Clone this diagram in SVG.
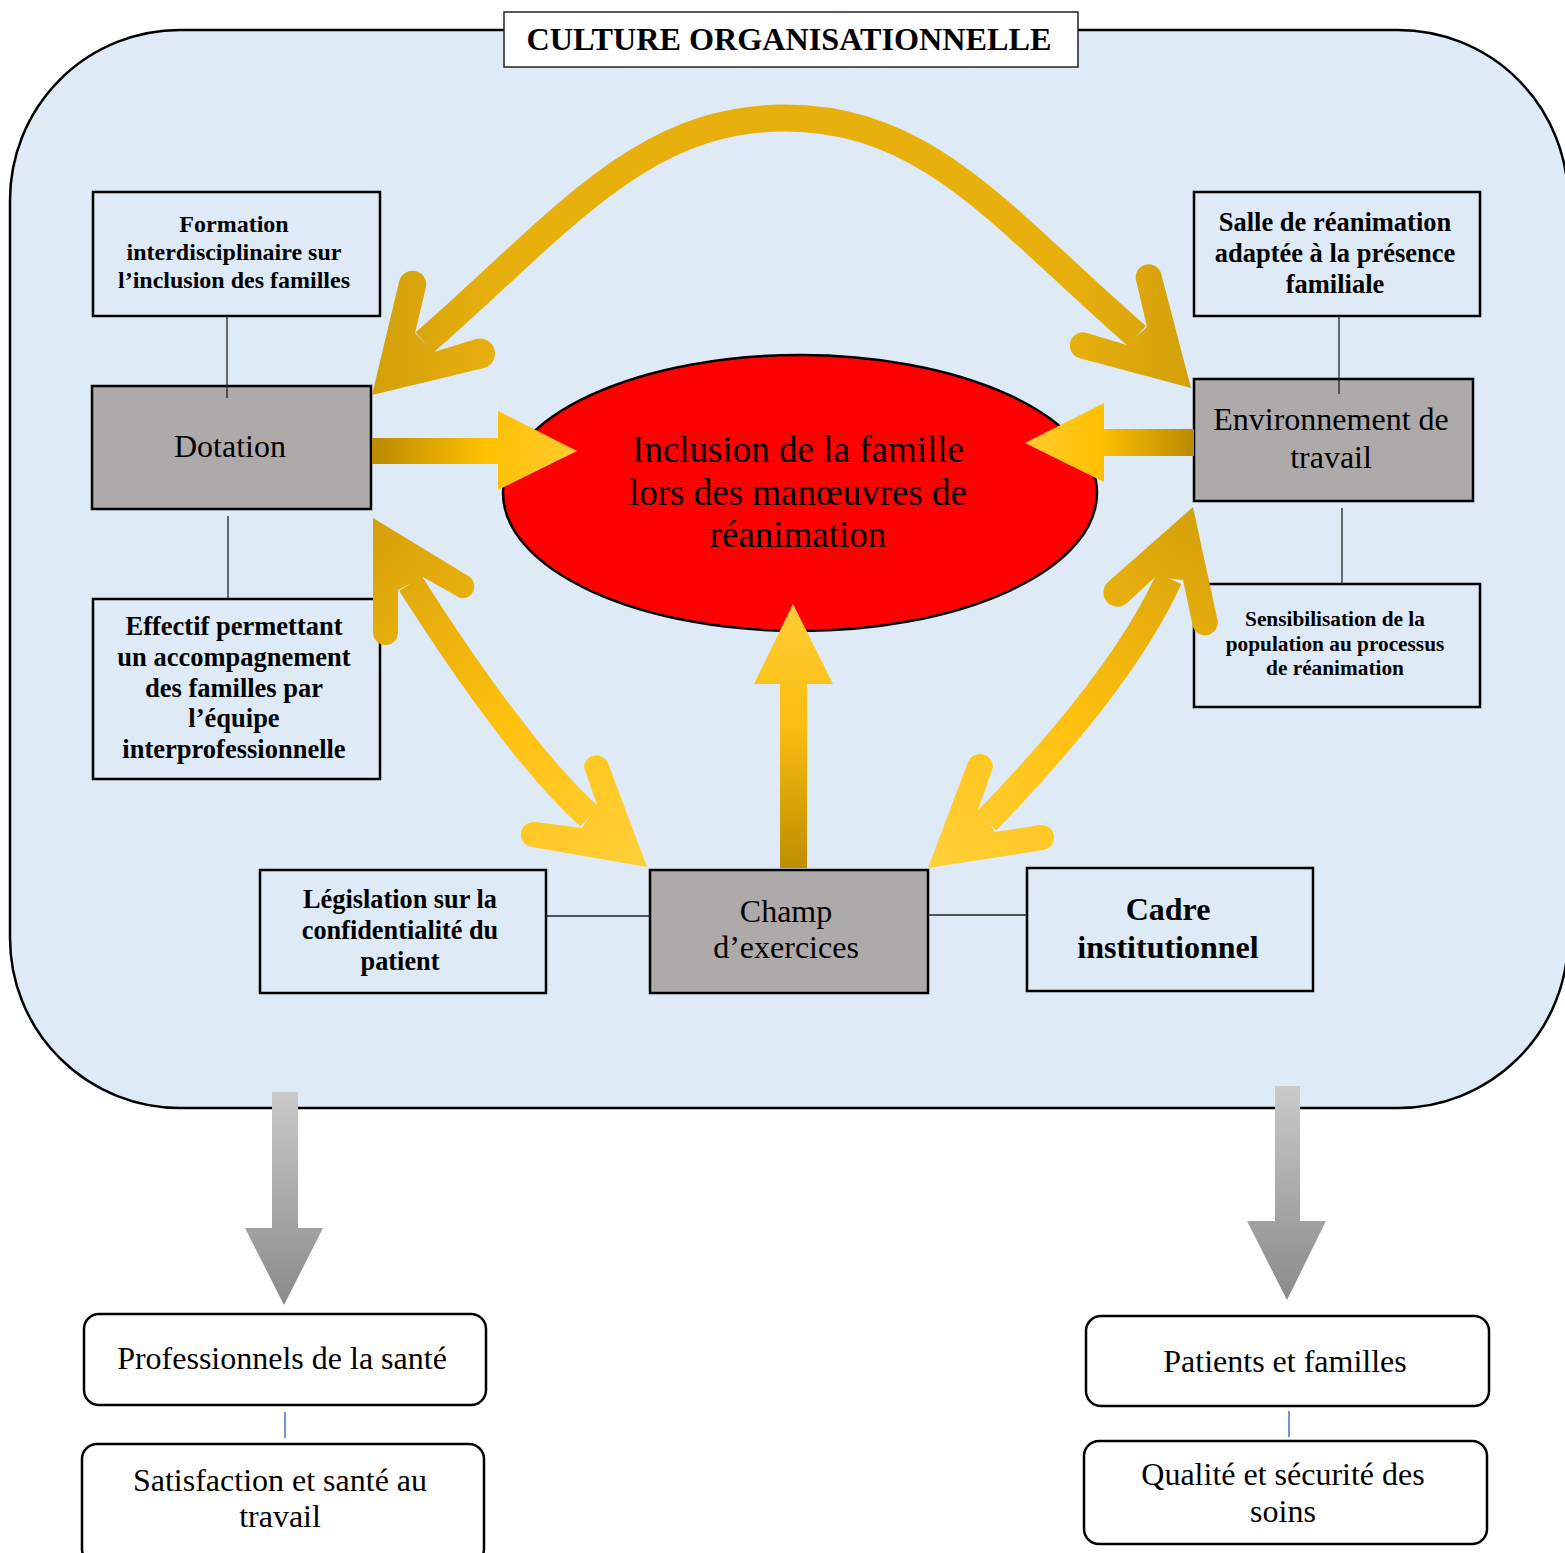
<svg xmlns="http://www.w3.org/2000/svg" width="1565" height="1553" viewBox="0 0 1565 1553">
<style>
.t{font-family:"Liberation Serif","Times New Roman",serif;fill:#000;text-anchor:middle}
.b{font-weight:bold}
.box{fill:#DEEAF6;stroke:#000;stroke-width:2.5}
.gbox{fill:#AEAAAA;stroke:#000;stroke-width:2.5}
.wbox{fill:#fff;stroke:#000;stroke-width:2.5}
.ln{stroke:#222;stroke-width:1.3;fill:none}
.bl{stroke:#4472C4;stroke-width:1.5;fill:none}
</style>
<defs>
<linearGradient id="gH1" gradientUnits="userSpaceOnUse" x1="372" y1="451" x2="577" y2="451">
<stop offset="0" stop-color="#B98A00"/><stop offset="0.55" stop-color="#FFC000"/><stop offset="1" stop-color="#FFCB30"/></linearGradient>
<linearGradient id="gH2" gradientUnits="userSpaceOnUse" x1="1194" y1="443" x2="1025" y2="443">
<stop offset="0" stop-color="#B98A00"/><stop offset="0.55" stop-color="#FFC000"/><stop offset="1" stop-color="#FFCB30"/></linearGradient>
<linearGradient id="gV" gradientUnits="userSpaceOnUse" x1="793" y1="868" x2="793" y2="604">
<stop offset="0" stop-color="#BE8E00"/><stop offset="0.55" stop-color="#FBBE10"/><stop offset="1" stop-color="#FFCD35"/></linearGradient>
<linearGradient id="gTop" gradientUnits="userSpaceOnUse" x1="372" y1="250" x2="1191" y2="250">
<stop offset="0" stop-color="#D2A00A"/><stop offset="0.15" stop-color="#E8B00C"/><stop offset="0.85" stop-color="#E8B00C"/><stop offset="1" stop-color="#D2A00A"/></linearGradient>
<linearGradient id="gLL" gradientUnits="userSpaceOnUse" x1="373" y1="518" x2="647" y2="867">
<stop offset="0" stop-color="#D4A00A"/><stop offset="0.55" stop-color="#FFC10F"/><stop offset="1" stop-color="#FFD03A"/></linearGradient>
<linearGradient id="gLR" gradientUnits="userSpaceOnUse" x1="1193" y1="507" x2="928" y2="868">
<stop offset="0" stop-color="#D4A00A"/><stop offset="0.55" stop-color="#FFC10F"/><stop offset="1" stop-color="#FFD03A"/></linearGradient>
<linearGradient id="gGray" x1="0" y1="0" x2="0" y2="1">
<stop offset="0" stop-color="#CACACA"/><stop offset="1" stop-color="#8A8A8A"/></linearGradient>
</defs>

<g id="container">
<rect x="10" y="30" width="1558" height="1078" rx="170" ry="170" fill="#DEEAF6" stroke="#000" stroke-width="2.5"/>
</g>

<g id="title">
<rect x="504" y="12" width="574" height="55" fill="#fff" stroke="#222" stroke-width="1.5"/>
<text class="t b" x="789" y="50" font-size="32.2">CULTURE ORGANISATIONNELLE</text>
</g>

<g id="node-formation">
<rect class="box" x="93" y="192" width="287" height="124"/>
<text class="t b" font-size="24" x="234"><tspan x="234" y="232">Formation</tspan><tspan x="234" y="260">interdisciplinaire sur</tspan><tspan x="234" y="288">l’inclusion des familles</tspan></text>
</g>

<g id="node-dotation">
<rect class="gbox" x="92" y="386" width="279" height="123"/>
<text class="t" font-size="32" x="230" y="457">Dotation</text>
</g>

<g id="node-effectif">
<rect class="box" x="93" y="599" width="287" height="180"/>
<text class="t b" font-size="26.5" x="234"><tspan x="234" y="635">Effectif permettant</tspan><tspan x="234" y="666">un accompagnement</tspan><tspan x="234" y="697">des familles par</tspan><tspan x="234" y="727">l’équipe</tspan><tspan x="234" y="758">interprofessionnelle</tspan></text>
</g>

<g id="node-inclusion">
<ellipse cx="800" cy="493" rx="297" ry="138" fill="#FF0000" stroke="#000" stroke-width="2.5"/>
<text class="t" font-size="37" x="798"><tspan x="798" y="462">Inclusion de la famille</tspan><tspan x="798" y="505">lors des manœuvres de</tspan><tspan x="798" y="547">réanimation</tspan></text>
</g>

<g id="node-salle">
<rect class="box" x="1194" y="192" width="286" height="124"/>
<text class="t b" font-size="26.5" x="1335"><tspan x="1335" y="231">Salle de réanimation</tspan><tspan x="1335" y="262">adaptée à la présence</tspan><tspan x="1335" y="293">familiale</tspan></text>
</g>

<g id="node-environnement">
<rect class="gbox" x="1194" y="379" width="279" height="122"/>
<text class="t" font-size="32" x="1331"><tspan x="1331" y="430">Environnement de</tspan><tspan x="1331" y="468">travail</tspan></text>
</g>

<g id="node-sensibilisation">
<rect class="box" x="1194" y="584" width="286" height="123"/>
<text class="t b" font-size="21.3" x="1335"><tspan x="1335" y="626">Sensibilisation de la</tspan><tspan x="1335" y="651">population au processus</tspan><tspan x="1335" y="675">de réanimation</tspan></text>
</g>

<g id="node-legislation">
<rect class="box" x="260" y="870" width="286" height="123"/>
<text class="t b" font-size="26.3" x="400"><tspan x="400" y="908">Législation sur la</tspan><tspan x="400" y="939">confidentialité du</tspan><tspan x="400" y="970">patient</tspan></text>
</g>

<g id="node-champ">
<rect class="gbox" x="650" y="870" width="278" height="123"/>
<text class="t" font-size="32" x="786"><tspan x="786" y="922">Champ</tspan><tspan x="786" y="958">d’exercices</tspan></text>
</g>

<g id="node-cadre">
<rect class="box" x="1027" y="868" width="286" height="123"/>
<text class="t b" font-size="32" x="1168"><tspan x="1168" y="920">Cadre</tspan><tspan x="1168" y="958">institutionnel</tspan></text>
</g>

<g id="node-professionnels">
<rect class="wbox" x="84" y="1314" width="402" height="91" rx="15"/>
<text class="t" font-size="32" x="282" y="1369">Professionnels de la santé</text>
</g>

<g id="node-satisfaction">
<rect class="wbox" x="82" y="1444" width="402" height="120" rx="15"/>
<text class="t" font-size="32" x="280"><tspan x="280" y="1491">Satisfaction et santé au</tspan><tspan x="280" y="1527">travail</tspan></text>
</g>

<g id="node-patients">
<rect class="wbox" x="1086" y="1316" width="403" height="90" rx="15"/>
<text class="t" font-size="32" x="1285" y="1372">Patients et familles</text>
</g>

<g id="node-qualite">
<rect class="wbox" x="1084" y="1441" width="403" height="103" rx="15"/>
<text class="t" font-size="32" x="1283"><tspan x="1283" y="1485">Qualité et sécurité des</tspan><tspan x="1283" y="1522">soins</tspan></text>
</g>

<g id="connectors">
<line class="ln" x1="227" y1="316" x2="227" y2="398"/>
<line class="ln" x1="228" y1="516" x2="228" y2="599"/>
<line class="ln" x1="1339" y1="316" x2="1339" y2="394"/>
<line class="ln" x1="1342" y1="508" x2="1342" y2="584"/>
<line class="ln" x1="546" y1="916" x2="650" y2="916"/>
<line class="ln" x1="928" y1="915" x2="1027" y2="915"/>
<line class="bl" x1="285" y1="1412" x2="285" y2="1438"/>
<line class="bl" x1="1289" y1="1411" x2="1289" y2="1437"/>

<polygon fill="url(#gH1)" points="372,438 498,438 498,411 577,451 498,490 498,464 372,464"/>
<polygon fill="url(#gH2)" points="1194,429 1104,429 1104,403 1025,443 1104,482 1104,456 1194,456"/>
<polygon fill="url(#gV)" points="780,868 780,684 754,684 793,604 833,684 807,684 807,868"/>

<path fill="none" stroke="url(#gTop)" stroke-width="27" d="M424.5,342.5 C560,224.4 640,118 785,118 C930,118 1005,222 1137,336"/>
<path fill="url(#gTop)" d="M372,395 L399,282 A13 13 0 0 1 426,287 L415,333 L434,352 L476,339 A14 14 0 0 1 484,368 Z"/>
<path fill="url(#gTop)" d="M1191,388 L1161,273 A13 13 0 0 0 1136,280 L1147,327 L1127,345 L1087,333 A13 13 0 0 0 1079,358 Z"/>

<path fill="none" stroke="url(#gLL)" stroke-width="27" d="M410.5,583.5 Q518,752 589.5,816.5"/>
<path fill="url(#gLL)" d="M373,518 L373,632 A12.5 12.5 0 0 0 398,633 L398,590 L423,577 L460,598 A12 12 0 0 0 470,577 Z"/>
<path fill="url(#gLL)" d="M647,867 L608,763 A12.5 12.5 0 0 0 584,767 L597,805 L582,828 L535,822 A12.5 12.5 0 0 0 532,847 Z"/>

<path fill="none" stroke="url(#gLR)" stroke-width="27" d="M1169,578.5 Q1123,680 986.5,821"/>
<path fill="url(#gLR)" d="M1193,507 L1217,618 A12.5 12.5 0 0 1 1193,627 L1183,580 L1155,577 L1127,603 A14 14 0 0 1 1108,582 Z"/>
<path fill="url(#gLR)" d="M928,868 L968,762 A13 13 0 0 1 993,767 L978,810 L995,832 L1040,825 A12.5 12.5 0 0 1 1043,850 Z"/>

<polygon fill="url(#gGray)" points="272,1092 298,1092 298,1228 323,1228 284,1305 245,1228 272,1228"/>
<polygon fill="url(#gGray)" points="1275,1086 1300,1086 1300,1221 1326,1221 1287,1300 1247,1221 1275,1221"/>
</g>
</svg>
